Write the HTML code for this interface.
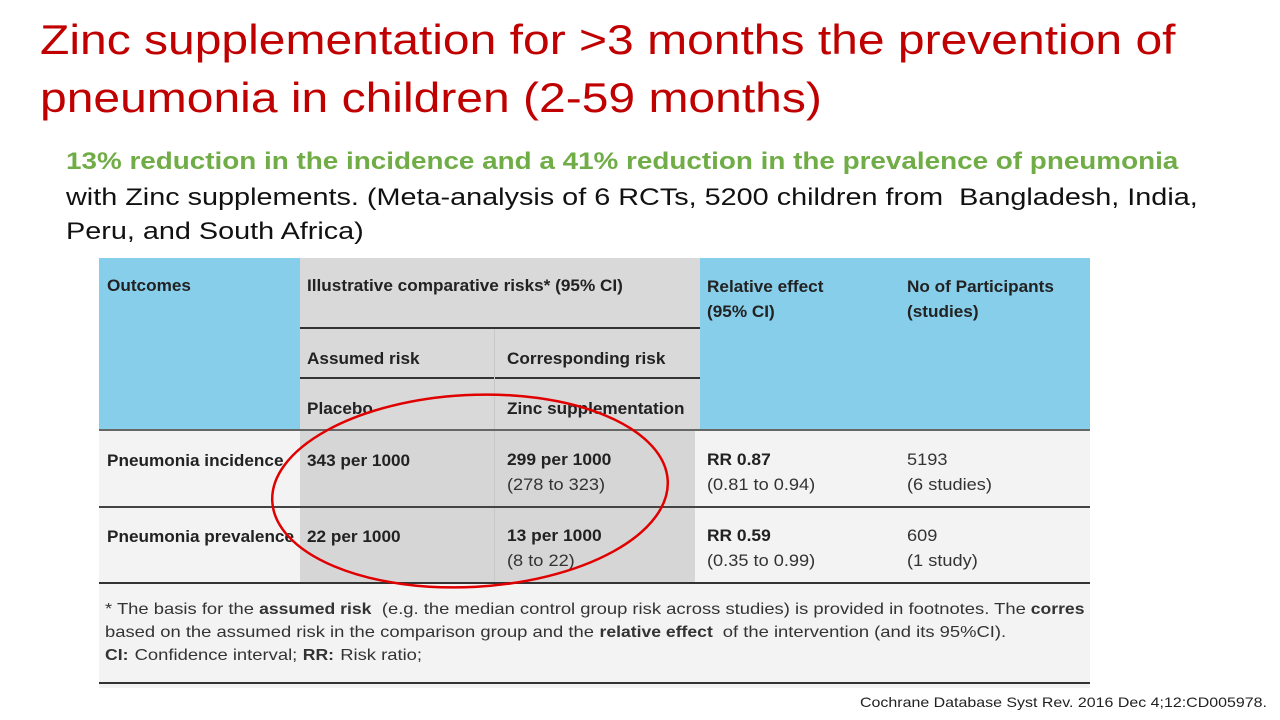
<!DOCTYPE html>
<html><head><meta charset="utf-8"><style>
body{margin:0;width:1280px;height:720px;background:#fff;position:relative;overflow:hidden;font-family:"Liberation Sans",sans-serif}
.t{position:absolute;left:40px;color:#c00000;font-size:42px;white-space:nowrap;transform-origin:0 0}
.s{position:absolute;left:66px;font-size:24px;white-space:nowrap;transform-origin:0 0;color:#111}
.a{position:absolute;font-size:17px;font-weight:bold;color:#222;white-space:nowrap;transform:scaleX(1.01);transform-origin:0 0}
.n{position:absolute;font-size:17px;color:#333;white-space:nowrap;transform:scaleX(1.07);transform-origin:0 0;line-height:25px}
.n b{display:inline-block;transform:scaleX(0.955);transform-origin:0 0}
.r{position:absolute}
</style></head><body>
<div class="t" style="top:16px;transform:scaleX(1.143)">Zinc supplementation for &gt;3 months the prevention of</div>
<div class="t" style="top:74px;transform:scaleX(1.143)">pneumonia in children (2-59 months)</div>
<div class="s" style="top:148px;transform:scaleX(1.16)"><b style="color:#70ad47">13% reduction in the incidence and a 41% reduction in the prevalence of pneumonia</b></div>
<div class="s" style="top:184px;transform:scaleX(1.2)">with Zinc supplements. (Meta-analysis of 6 RCTs, 5200 children from&nbsp; Bangladesh, India,</div>
<div class="s" style="top:218px;transform:scaleX(1.2)">Peru, and South Africa)</div>

<div class="r" style="left:99px;top:258px;width:991px;height:430px;background:#f3f3f3"></div>
<div class="r" style="left:99px;top:258px;width:201px;height:172px;background:#87ceeb"></div>
<div class="r" style="left:700px;top:258px;width:390px;height:172px;background:#87ceeb"></div>
<div class="r" style="left:300px;top:258px;width:400px;height:172px;background:#d9d9d9"></div>
<div class="r" style="left:300px;top:430px;width:395px;height:153px;background:#d6d6d6"></div>
<div class="r" style="left:300px;top:327px;width:400px;height:2px;background:#333"></div>
<div class="r" style="left:300px;top:377px;width:400px;height:2px;background:#333"></div>
<div class="r" style="left:494px;top:329px;width:1px;height:254px;background:#c8c8c8"></div>
<div class="r" style="left:99px;top:429px;width:991px;height:2px;background:#666"></div>
<div class="r" style="left:99px;top:506px;width:991px;height:2px;background:#444"></div>
<div class="r" style="left:99px;top:582px;width:991px;height:2px;background:#333"></div>
<div class="r" style="left:99px;top:682px;width:991px;height:2px;background:#333"></div>

<div class="a" style="left:107px;top:276px">Outcomes</div>
<div class="a" style="left:307px;top:276px">Illustrative comparative risks* (95% CI)</div>
<div class="a" style="left:707px;top:274px;line-height:25px">Relative effect<br>(95% CI)</div>
<div class="a" style="left:907px;top:274px;line-height:25px">No of Participants<br>(studies)</div>
<div class="a" style="left:307px;top:349px">Assumed risk</div>
<div class="a" style="left:507px;top:349px">Corresponding risk</div>
<div class="a" style="left:307px;top:399px">Placebo</div>
<div class="a" style="left:507px;top:399px">Zinc supplementation</div>

<div class="a" style="left:107px;top:451px">Pneumonia incidence</div>
<div class="a" style="left:307px;top:451px">343 per 1000</div>
<div class="n" style="left:507px;top:447px"><b style="color:#222">299 per 1000</b><br>(278 to 323)</div>
<div class="n" style="left:707px;top:447px"><b style="color:#222">RR 0.87</b><br>(0.81 to 0.94)</div>
<div class="n" style="left:907px;top:447px">5193<br>(6 studies)</div>

<div class="a" style="left:107px;top:527px">Pneumonia prevalence</div>
<div class="a" style="left:307px;top:527px">22 per 1000</div>
<div class="n" style="left:507px;top:523px"><b style="color:#222">13 per 1000</b><br>(8 to 22)</div>
<div class="n" style="left:707px;top:523px"><b style="color:#222">RR 0.59</b><br>(0.35 to 0.99)</div>
<div class="n" style="left:907px;top:523px">609<br>(1 study)</div>

<div class="r" style="left:99px;top:590px;width:991px;height:90px;overflow:hidden">
<div class="n" style="left:6px;top:8px;font-size:16px;line-height:23px;transform:scaleX(1.15)">* The basis for the <b>assumed risk</b> (e.g. the median control group risk across studies) is provided in footnotes. The <b>corres</b><br>based on the assumed risk in the comparison group and the <b>relative effect</b> of the intervention (and its 95%CI).<br><b>CI:</b> Confidence interval; <b>RR:</b> Risk ratio;</div>
</div>

<svg class="r" style="left:0;top:0" width="1280" height="720"><ellipse cx="470" cy="491" rx="198" ry="96" transform="rotate(-3 470 491)" fill="none" stroke="#e00000" stroke-width="2.5"/></svg>

<div class="r" style="left:860px;top:694px;font-size:14px;color:#222;white-space:nowrap;transform:scaleX(1.14);transform-origin:0 0">Cochrane Database Syst Rev. 2016 Dec 4;12:CD005978.</div>
</body></html>
